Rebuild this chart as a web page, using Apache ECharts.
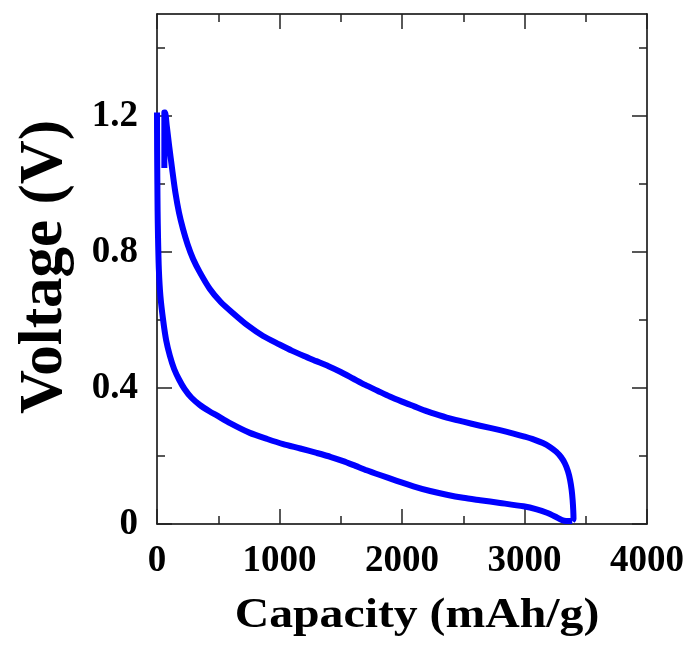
<!DOCTYPE html>
<html>
<head>
<meta charset="utf-8">
<script src="https://cdn.jsdelivr.net/npm/echarts@6/dist/echarts.min.js"></script>
<style>
  html, body { margin: 0; padding: 0; background: #fff; }
  #chart { width: 688px; height: 650px; }
</style>
</head>
<body>
<div id="chart"></div>
<script>
// Discharge branch: [capacity mAh/g, voltage V]
const dischargeCurve = [
  [0, 1.21], [1, 1.1], [3, 1.0], [5, 0.92], [8, 0.85], [15, 0.75], [28, 0.67],
  [50, 0.6], [75, 0.54], [105, 0.495], [140, 0.456], [180, 0.425],
  [225, 0.397], [280, 0.372], [350, 0.35], [431, 0.331], [485, 0.32],
  [600, 0.296], [758, 0.268], [900, 0.25], [1030, 0.235], [1170, 0.222],
  [1303, 0.209], [1420, 0.197], [1520, 0.185], [1620, 0.171], [1711, 0.158],
  [1820, 0.144], [1957, 0.127], [2093, 0.111], [2230, 0.097], [2365, 0.086],
  [2500, 0.077], [2638, 0.07], [2800, 0.062], [2991, 0.052], [3100, 0.043],
  [3183, 0.033], [3250, 0.022], [3305, 0.012], [3340, 0.009], [3390, 0.009]
];

// Charge branch, followed by the short rest step at the top
const chargeCurve = [
  [3390, 0.009], [3400, 0.015], [3398, 0.04], [3393, 0.07], [3385, 0.1],
  [3372, 0.13], [3355, 0.155], [3330, 0.178], [3300, 0.196], [3260, 0.212],
  [3210, 0.226], [3150, 0.238], [3073, 0.249], [3000, 0.257], [2910, 0.266],
  [2800, 0.276], [2638, 0.289], [2500, 0.301], [2365, 0.313], [2300, 0.32],
  [2200, 0.332], [2100, 0.346], [2000, 0.36], [1900, 0.375], [1800, 0.392],
  [1700, 0.409], [1600, 0.428], [1500, 0.447], [1400, 0.464], [1300, 0.479],
  [1200, 0.494], [1100, 0.51], [1000, 0.528], [866, 0.553], [740, 0.584],
  [621, 0.62], [520, 0.653], [430, 0.692], [350, 0.74], [294, 0.78],
  [250, 0.822], [212, 0.868], [180, 0.915], [150, 0.975], [125, 1.04],
  [100, 1.11], [80, 1.17], [66, 1.21], [60, 1.21], [60, 1.047]
];

const xTicks = [0, 1000, 2000, 3000, 4000];
const yMajorTicks = [0, 0.4, 0.8, 1.2];
const yMinorTicks = [0.2, 0.6, 1.0, 1.4];

const FONT = '"Liberation Serif", "Times New Roman", serif';
const AXIS_COLOR = '#000';

function xAxisDef(pos, withLabels) {
  return {
    type: 'value', position: pos, min: xTicks[0], max: xTicks[xTicks.length - 1],
    interval: xTicks[1] - xTicks[0],
    axisLine: { show: true, onZero: false, lineStyle: { color: AXIS_COLOR, width: 1.5 } },
    axisTick: { show: true, inside: true, length: 15, lineStyle: { color: '#222', width: 1.5 } },
    minorTick: { show: true, splitNumber: 2, length: 8, lineStyle: { color: '#222', width: 1.5 } },
    splitLine: { show: false },
    axisLabel: {
      show: withLabels, margin: 19, color: '#000',
      fontFamily: FONT, fontWeight: 'bold', fontSize: 37,
      formatter: v => String(v)
    }
  };
}

function yAxisDef(pos, values, len, withLine, withLabels) {
  return {
    type: 'value', position: pos, min: 0, max: 1.5,
    axisLine: { show: withLine, onZero: false, lineStyle: { color: AXIS_COLOR, width: 1.5 } },
    axisTick: { show: true, inside: true, length: len, customValues: values,
                lineStyle: { color: '#222', width: 1.5 } },
    splitLine: { show: false },
    axisLabel: {
      show: withLabels, customValues: values, margin: 19, color: '#000',
      fontFamily: FONT, fontWeight: 'bold', fontSize: 37,
      formatter: v => String(v)
    }
  };
}

const chart = echarts.init(document.getElementById('chart'), null, { renderer: 'canvas' });

const lineStyle = { color: '#0000ff', width: 6, join: 'round' };

chart.setOption({
  animation: false,
  backgroundColor: '#fff',
  grid: { left: 157, right: 41, top: 14, bottom: 126, containLabel: false },
  xAxis: [ xAxisDef('bottom', true), xAxisDef('top', false) ],
  yAxis: [
    yAxisDef('left', yMajorTicks, 15, true, true),
    yAxisDef('left', yMinorTicks, 8, false, false),
    yAxisDef('right', yMajorTicks, 15, true, false),
    yAxisDef('right', yMinorTicks, 8, false, false)
  ],
  series: [
    { type: 'line', name: 'Discharge', data: dischargeCurve, showSymbol: false,
      smooth: 0.25, lineStyle: lineStyle, clip: false },
    { type: 'line', name: 'Charge', data: chargeCurve, showSymbol: false,
      smooth: 0.25, lineStyle: lineStyle, clip: false }
  ],
  graphic: [
    { type: 'text', x: 417, y: 616, scaleX: 1.11,
      style: { text: 'Capacity (mAh/g)', font: 'bold 43px ' + FONT,
               fill: '#000', align: 'center', verticalAlign: 'middle' } },
    { type: 'text', x: 45, y: 267, rotation: Math.PI / 2,
      style: { text: 'Voltage (V)', font: 'bold 61px ' + FONT,
               fill: '#000', align: 'center', verticalAlign: 'middle' } }
  ]
});
</script>
</body>
</html>
